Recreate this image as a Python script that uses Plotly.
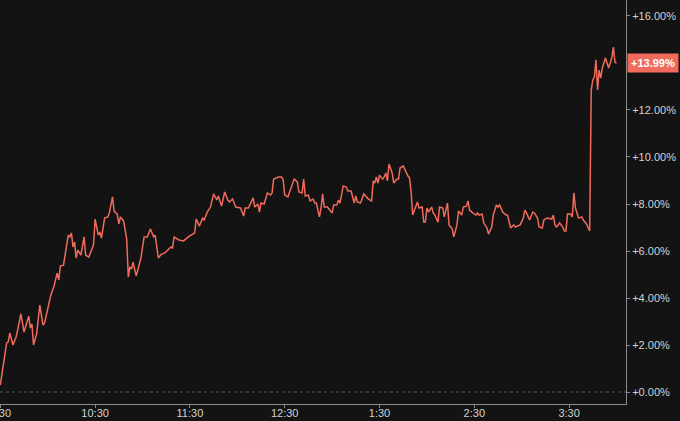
import plotly.graph_objects as go
import pandas as pd

# minutes after the 9:30 open, and % change from previous close
minutes = [0, 4, 5, 6, 8, 10, 11, 13, 15, 18, 19, 20, 21, 23, 25, 27, 28, 32, 34, 36,
           37, 38, 40, 43, 44, 45, 46, 47, 48, 49, 51, 53, 54, 56, 59, 60, 62, 63, 64, 66,
           68, 69, 71, 72, 74, 75, 76, 78, 80, 81, 82, 83, 84, 86, 87, 89, 91, 93, 95, 97,
           98, 100, 102, 104, 106, 108, 109, 110, 113, 116, 119, 123, 124, 126, 128, 129, 131, 133, 135, 136,
           137, 138, 140, 141, 142, 144, 145, 147, 149, 152, 154, 155, 157, 160, 161, 163, 164, 165, 167, 169,
           171, 172, 173, 176, 178, 179, 180, 182, 184, 186, 188, 189, 191, 192, 193, 195, 196, 198, 199, 200,
           202, 203, 204, 205, 207, 208, 210, 211, 213, 214, 215, 217, 219, 220, 222, 224, 225, 226, 228, 230,
           232, 233, 235, 236, 237, 238, 239, 240, 242, 243, 244, 245, 246, 248, 249, 251, 252, 253, 255, 256,
           258, 259, 260, 261, 263, 264, 265, 267, 268, 269, 270, 271, 273, 274, 275, 277, 278, 280, 281, 283,
           284, 286, 287, 289, 290, 292, 293, 295, 296, 297, 299, 301, 302, 303, 305, 306, 308, 309, 311, 312,
           314, 315, 316, 318, 320, 321, 323, 325, 326, 327, 329, 331, 332, 333, 335, 337, 338, 340, 341, 343,
           344, 346, 349, 350, 351, 352, 354, 356, 357, 358, 359, 361, 362, 363, 364, 366, 368, 369, 370, 371,
           373, 374, 375, 376, 377, 378, 379, 380, 381, 383, 384, 385, 387, 388, 389, 390]

change_pct = [0.30, 2.09, 2.13, 2.51, 2.00, 2.34, 2.64, 3.32, 2.55, 3.23, 2.72, 2.89, 2.00, 2.47, 3.70, 2.85, 2.94, 4.13, 4.51, 5.06,
              4.77, 5.36, 5.40, 6.68, 6.60, 6.77, 6.17, 6.38, 5.70, 6.04, 5.83, 6.60, 5.83, 5.74, 6.26, 7.36, 6.68, 6.81, 6.55, 7.40,
              7.45, 7.62, 8.30, 7.70, 7.57, 7.15, 7.45, 7.28, 6.51, 4.89, 5.32, 5.23, 5.53, 4.94, 5.19, 5.70, 6.60, 6.60, 6.94, 6.60,
              6.68, 5.70, 5.87, 5.91, 6.04, 6.17, 6.13, 6.60, 6.47, 6.43, 6.60, 6.77, 7.36, 7.06, 7.40, 7.32, 7.66, 7.87, 8.43, 8.30,
              8.17, 8.34, 7.91, 8.21, 8.51, 8.17, 8.09, 8.21, 7.87, 7.83, 7.49, 7.83, 7.83, 8.26, 7.87, 8.00, 7.66, 8.04, 8.00, 8.47,
              8.38, 8.47, 9.06, 9.15, 9.15, 9.02, 8.38, 8.30, 8.72, 9.06, 8.94, 8.51, 8.47, 9.06, 8.34, 8.38, 8.13, 8.21, 8.04, 8.04,
              7.45, 7.83, 8.43, 7.87, 7.87, 7.79, 7.62, 7.96, 7.96, 8.17, 8.04, 8.77, 8.72, 8.55, 8.55, 8.04, 8.34, 8.09, 8.04, 8.43,
              8.30, 8.21, 8.13, 8.98, 8.89, 9.15, 8.89, 9.23, 9.06, 9.15, 9.32, 8.98, 9.70, 9.32, 8.89, 9.06, 9.06, 9.53, 9.62, 9.45,
              9.19, 9.11, 8.51, 7.53, 7.87, 8.09, 7.83, 7.87, 7.23, 7.23, 7.83, 7.66, 7.87, 7.62, 7.53, 7.23, 7.87, 7.83, 7.45, 8.04,
              7.11, 6.94, 6.60, 7.11, 7.70, 7.53, 7.87, 7.91, 8.13, 7.74, 7.62, 7.53, 7.62, 7.53, 7.57, 7.19, 6.98, 6.72, 7.02, 7.53,
              7.96, 7.87, 7.96, 7.66, 7.53, 7.53, 6.98, 7.11, 7.02, 7.06, 7.11, 7.40, 7.74, 7.62, 7.32, 7.66, 7.62, 7.40, 7.02, 6.98,
              7.32, 7.40, 7.36, 7.53, 7.11, 7.02, 7.19, 7.02, 6.85, 6.85, 7.57, 7.57, 7.45, 8.47, 7.83, 7.40, 7.45, 7.32, 7.23, 7.15,
              6.85, 12.85, 13.28, 13.40, 14.13, 12.85, 13.70, 13.36, 13.79, 14.21, 14.00, 13.79, 14.21, 14.68, 14.04, 13.99]

y_tick_values = [0, 2, 4, 6, 8, 10, 12, 16]
session_date = "2024-01-02"

open_time = pd.Timestamp(f"{session_date} 09:30")
times = [open_time + pd.Timedelta(minutes=m) for m in minutes]
last_value = change_pct[-1]
y_tick_text = [f"{v:+.2f}%" for v in y_tick_values]

bg = "#131313"
line_color = "#f06b5b"
text_color = "#d2d2d2"
axis_color = "#8a8a8a"

fig = go.Figure()
fig.add_trace(go.Scatter(x=times, y=change_pct, mode="lines",
                         line=dict(color=line_color, width=1.5), hoverinfo="skip"))

fig.update_layout(
    width=680, height=421,
    margin=dict(l=0, r=54, t=0, b=17),
    paper_bgcolor=bg, plot_bgcolor=bg,
    showlegend=False,
    font=dict(family="Liberation Sans, Arial, sans-serif", size=11, color=text_color),
)

fig.update_xaxes(
    range=[open_time - pd.Timedelta(seconds=12), open_time + pd.Timedelta(minutes=396)],
    type="date", tick0=open_time, dtick=3600000, tickformat="%-I:%M",
    showgrid=False, zeroline=False,
    showline=True, linecolor=axis_color, linewidth=1,
    ticks="outside", ticklen=3, tickcolor=axis_color,
    tickfont=dict(size=11, color=text_color), automargin=False,
    ticklabeloverflow="allow", ticklabelstandoff=-4,
)

fig.update_yaxes(
    side="right", range=[-0.51, 16.68],
    tickmode="array", tickvals=y_tick_values, ticktext=y_tick_text,
    showgrid=False, zeroline=False,
    showline=True, linecolor=axis_color, linewidth=1,
    ticks="outside", ticklen=3, tickcolor=axis_color,
    tickfont=dict(size=11, color=text_color), automargin=False,
    ticklabeloverflow="allow",
)

# dotted baseline at 0%
fig.add_shape(type="line", xref="paper", x0=0, x1=1, yref="y", y0=0, y1=0,
              line=dict(color="#5a5a5a", width=1, dash="dot"))

# last value badge
fig.add_annotation(x=1, xref="paper", xanchor="left", xshift=1,
                   y=last_value, yref="y", yanchor="middle",
                   text=f"<b>{last_value:+.2f}%</b>", showarrow=False,
                   font=dict(size=11, color="#ffffff"),
                   bgcolor=line_color, borderpad=3)

fig.write_html("out.html", config={"displayModeBar": False},
               post_script="document.body.style.margin='0';document.body.style.background='#131313';")
